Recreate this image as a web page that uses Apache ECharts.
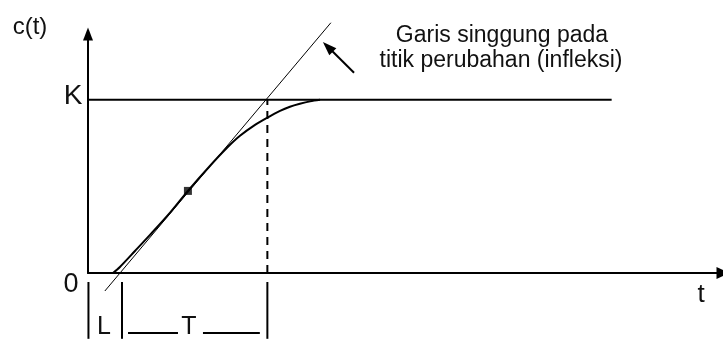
<!DOCTYPE html>
<html><head><meta charset="utf-8">
<script src="https://cdn.jsdelivr.net/npm/echarts@6/dist/echarts.min.js"></script>
<style>html,body{margin:0;padding:0;background:#fff}#c{width:723px;height:339px}</style>
</head><body><div id="c"></div>
<script>
// Process step response c(t) with the tangent drawn at its inflection point
// (L = dead time, T = time constant, K = steady-state value)
const gainK = 1;
const responseCurve = [[0.83,0],[1.06,0.035],[1.56,0.127],[2.06,0.22],[2.72,0.347],[3.32,0.474],
  [4.05,0.618],[4.62,0.723],[5.05,0.792],[5.55,0.855],[5.95,0.896],[6.38,0.936],[6.71,0.96],
  [7.04,0.977],[7.38,0.991],[7.71,1.0]];
const inflectionPoint = [3.32, 0.474];
const tangentLine = [[0.56,-0.104],[8.07,1.445]];
const steadyStateEnd = 17.4;
const tangentMeetsK = 5.96;
const bracketMarks = [0.015, 1.13, 5.96];
const bracketTop = -0.052, bracketBottom = -0.38;
const spanTLevel = -0.347;
const spanTSegments = [[1.33, 2.99], [3.82, 5.71]];
const calloutArrow = [[8.84,1.156],[7.97,1.306]];
const calloutText = ['Garis singgung pada', 'titik perubahan (infleksi)'];
const axisNames = { y: 'c(t)', x: 't', k: 'K', zero: '0', dead: 'L', tau: 'T' };

const ink = '#000';
const font = 'Liberation Sans, Arial, sans-serif';

function seg(points, width, extra) {
  return Object.assign({
    type: 'line', data: points, symbol: 'none', clip: false, silent: true,
    lineStyle: { color: ink, width: width }
  }, extra || {});
}

const series = [
  seg([[0, gainK], [steadyStateEnd, gainK]], 2),
  seg(tangentLine, 1),
  seg(responseCurve, 2, { smooth: 0.3 }),
  seg([[tangentMeetsK, 0], [tangentMeetsK, gainK]], 2, { lineStyle: { color: ink, width: 2, type: [8, 6] } }),
  { type: 'scatter', data: [inflectionPoint], symbol: 'rect', symbolSize: 8, itemStyle: { color: ink }, silent: true }
];
bracketMarks.forEach(x => series.push(seg([[x, bracketTop], [x, bracketBottom]], 2)));
spanTSegments.forEach(s => series.push(seg([[s[0], spanTLevel], [s[1], spanTLevel]], 2)));
series.push({
  type: 'line', data: [], silent: true,
  markLine: {
    silent: true, symbol: ['none', 'triangle'], symbolSize: [10, 14], animation: false,
    lineStyle: { color: ink, width: 2, type: 'solid' }, label: { show: false },
    data: [[{ coord: calloutArrow[0] }, { coord: calloutArrow[1] }]]
  }
});

function txt(s, x, y, size) {
  return { type: 'text', x: x, y: y, silent: true,
    style: { text: s, font: size + 'px ' + font, fill: '#111', textAlign: 'center', textVerticalAlign: 'middle' } };
}

const chart = echarts.init(document.getElementById('c'), null, { renderer: 'canvas' });
chart.setOption({
  animation: false,
  backgroundColor: '#fff',
  grid: { left: 88, right: 0, top: 34, bottom: 66 },
  xAxis: { type: 'value', min: 0, max: 21.1,
    axisLine: { lineStyle: { color: ink, width: 2 }, symbol: ['none', 'triangle'], symbolSize: [12, 13] },
    axisTick: { show: false }, axisLabel: { show: false }, splitLine: { show: false } },
  yAxis: { type: 'value', min: 0, max: 1.38,
    axisLine: { show: true, lineStyle: { color: ink, width: 2 }, symbol: ['none', 'triangle'], symbolSize: [10, 13] },
    axisTick: { show: false }, axisLabel: { show: false }, splitLine: { show: false } },
  series: series,
  graphic: [
    txt(axisNames.y, 30, 27, 24),
    txt(axisNames.k, 73, 96, 28),
    txt(axisNames.zero, 71, 285, 27),
    txt(axisNames.x, 701, 295, 26),
    txt(axisNames.dead, 104, 327, 25),
    txt(axisNames.tau, 189, 327, 25),
    txt(calloutText[0], 502, 36, 23),
    txt(calloutText[1], 501, 61, 23)
  ]
});
</script></body></html>
